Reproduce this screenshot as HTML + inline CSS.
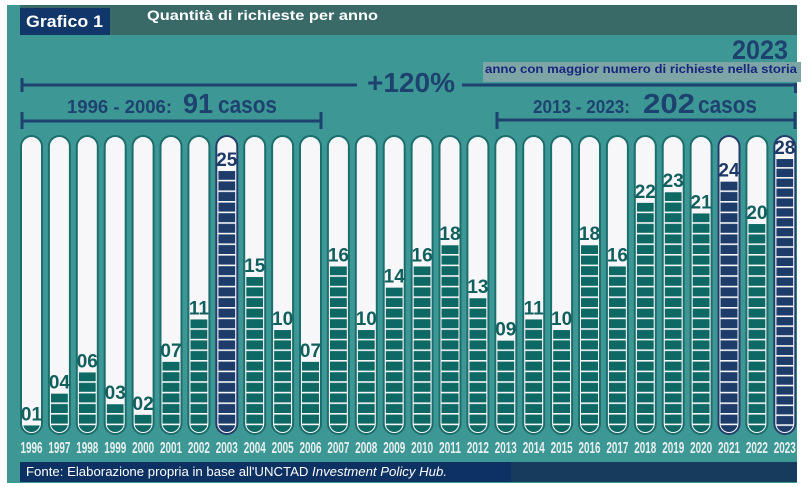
<!DOCTYPE html>
<html><head><meta charset="utf-8"><style>
html,body{margin:0;padding:0;background:#fff;}
svg{display:block;}
text{font-family:"Liberation Sans",Arial,sans-serif;}
.o{fill:#f7f7f9;stroke:#1b6e6c;stroke-width:2;}
.on{fill:#f7f7f9;stroke:#223f6c;stroke-width:2;}
.v{font-size:19px;font-weight:bold;fill:#12605e;text-anchor:middle;}
.vn{font-size:19px;font-weight:bold;fill:#1d3a66;text-anchor:middle;}
.y{font-size:15.5px;font-weight:bold;fill:#e9f1f0;text-anchor:middle;}
.b{font-weight:bold;fill:#1e426f;}
</style></head><body>
<svg width="809" height="487" viewBox="0 0 809 487" xmlns="http://www.w3.org/2000/svg">
<defs>
<clipPath id="c"><rect x="3" y="138" width="17" height="294" rx="8.5"/></clipPath>
<pattern id="pt" patternUnits="userSpaceOnUse" x="0" y="434.2" width="30" height="10.6"><rect x="0" y="0" width="30" height="10.6" fill="#0e6864"/><rect x="0" y="0" width="30" height="1.6" fill="#f7f7f9"/></pattern>
<pattern id="pn" patternUnits="userSpaceOnUse" x="0" y="434.2" width="30" height="10.6"><rect x="0" y="0" width="30" height="10.6" fill="#1d3c6a"/><rect x="0" y="0" width="30" height="1.6" fill="#f7f7f9"/></pattern>
<pattern id="pn2" patternUnits="userSpaceOnUse" x="0" y="434.2" width="30" height="9.893"><rect x="0" y="0" width="30" height="9.893" fill="#1d3c6a"/><rect x="0" y="0" width="30" height="1.6" fill="#f7f7f9"/></pattern>
</defs>
<rect x="7" y="5" width="790" height="478" fill="#3d9794"/>
<rect x="20" y="5" width="777" height="30" fill="#3a6a68"/>
<rect x="20" y="8" width="90" height="27" fill="#10366a"/>
<text x="26" y="27" font-size="16.5" font-weight="bold" fill="#fff" textLength="77" lengthAdjust="spacingAndGlyphs">Grafico 1</text>
<text x="147" y="20" font-size="14" font-weight="bold" fill="#fff" textLength="231" lengthAdjust="spacingAndGlyphs">Quantità di richieste per anno</text>

<g stroke="#1e426f" stroke-width="3">
<line x1="22" y1="85" x2="357" y2="85"/>
<line x1="22" y1="78" x2="22" y2="92"/>
<line x1="462" y1="85" x2="797" y2="85"/>
<line x1="795.5" y1="83" x2="795.5" y2="93"/>
<line x1="22" y1="121" x2="321" y2="121"/>
<line x1="22" y1="112" x2="22" y2="129"/>
<line x1="321" y1="112" x2="321" y2="129"/>
<line x1="497" y1="120" x2="795" y2="120"/>
<line x1="497" y1="112" x2="497" y2="129"/>
<line x1="795" y1="112" x2="795" y2="129"/>
</g>
<text class="b" x="367" y="92" font-size="28" textLength="88" lengthAdjust="spacingAndGlyphs">+120%</text>
<text class="b" x="732" y="59" font-size="27" textLength="56" lengthAdjust="spacingAndGlyphs">2023</text>
<rect x="483" y="62" width="318" height="20" fill="#7ea5a6"/>
<text x="485" y="73" font-size="12" font-weight="bold" fill="#18257c" textLength="312" lengthAdjust="spacingAndGlyphs">anno con maggior numero di richieste nella storia</text>

<text class="b" x="67" y="113" font-size="18" textLength="105" lengthAdjust="spacingAndGlyphs">1996 - 2006:</text>
<text class="b" x="183" y="113" font-size="28" textLength="30" lengthAdjust="spacingAndGlyphs">91</text>
<text class="b" x="218" y="113" font-size="24" textLength="59" lengthAdjust="spacingAndGlyphs">casos</text>

<text class="b" x="533" y="113" font-size="18" textLength="97" lengthAdjust="spacingAndGlyphs">2013 - 2023:</text>
<text class="b" x="643" y="113" font-size="28" textLength="52" lengthAdjust="spacingAndGlyphs">202</text>
<text class="b" x="698" y="113" font-size="24" textLength="59" lengthAdjust="spacingAndGlyphs">casos</text>

<g transform="translate(20,0)"><rect class="o" x="1" y="136" width="21" height="298" rx="10.5"/><rect x="3" y="425.4" width="17" height="20" fill="url(#pt)" clip-path="url(#c)"/><text class="v" x="11.5" y="420.4">01</text><text class="y" x="11.5" y="453" textLength="22" lengthAdjust="spacingAndGlyphs">1996</text></g>
<g transform="translate(47.9,0)"><rect class="o" x="1" y="136" width="21" height="298" rx="10.5"/><rect x="3" y="393.6" width="17" height="50" fill="url(#pt)" clip-path="url(#c)"/><text class="v" x="11.5" y="388.6">04</text><text class="y" x="11.5" y="453" textLength="22" lengthAdjust="spacingAndGlyphs">1997</text></g>
<g transform="translate(75.8,0)"><rect class="o" x="1" y="136" width="21" height="298" rx="10.5"/><rect x="3" y="372.4" width="17" height="70" fill="url(#pt)" clip-path="url(#c)"/><text class="v" x="11.5" y="367.4">06</text><text class="y" x="11.5" y="453" textLength="22" lengthAdjust="spacingAndGlyphs">1998</text></g>
<g transform="translate(103.7,0)"><rect class="o" x="1" y="136" width="21" height="298" rx="10.5"/><rect x="3" y="404.2" width="17" height="40" fill="url(#pt)" clip-path="url(#c)"/><text class="v" x="11.5" y="399.2">03</text><text class="y" x="11.5" y="453" textLength="22" lengthAdjust="spacingAndGlyphs">1999</text></g>
<g transform="translate(131.6,0)"><rect class="o" x="1" y="136" width="21" height="298" rx="10.5"/><rect x="3" y="414.8" width="17" height="30" fill="url(#pt)" clip-path="url(#c)"/><text class="v" x="11.5" y="409.8">02</text><text class="y" x="11.5" y="453" textLength="22" lengthAdjust="spacingAndGlyphs">2000</text></g>
<g transform="translate(159.5,0)"><rect class="o" x="1" y="136" width="21" height="298" rx="10.5"/><rect x="3" y="361.8" width="17" height="80" fill="url(#pt)" clip-path="url(#c)"/><text class="v" x="11.5" y="356.8">07</text><text class="y" x="11.5" y="453" textLength="22" lengthAdjust="spacingAndGlyphs">2001</text></g>
<g transform="translate(187.4,0)"><rect class="o" x="1" y="136" width="21" height="298" rx="10.5"/><rect x="3" y="319.4" width="17" height="120" fill="url(#pt)" clip-path="url(#c)"/><text class="v" x="11.5" y="314.4">11</text><text class="y" x="11.5" y="453" textLength="22" lengthAdjust="spacingAndGlyphs">2002</text></g>
<g transform="translate(215.3,0)"><rect class="on" x="1" y="136" width="21" height="298" rx="10.5"/><rect x="3" y="171" width="17" height="270" fill="url(#pn)" clip-path="url(#c)"/><text class="vn" x="11.5" y="166">25</text><text class="y" x="11.5" y="453" textLength="22" lengthAdjust="spacingAndGlyphs">2003</text></g>
<g transform="translate(243.2,0)"><rect class="o" x="1" y="136" width="21" height="298" rx="10.5"/><rect x="3" y="277" width="17" height="170" fill="url(#pt)" clip-path="url(#c)"/><text class="v" x="11.5" y="272">15</text><text class="y" x="11.5" y="453" textLength="22" lengthAdjust="spacingAndGlyphs">2004</text></g>
<g transform="translate(271.1,0)"><rect class="o" x="1" y="136" width="21" height="298" rx="10.5"/><rect x="3" y="330" width="17" height="110" fill="url(#pt)" clip-path="url(#c)"/><text class="v" x="11.5" y="325">10</text><text class="y" x="11.5" y="453" textLength="22" lengthAdjust="spacingAndGlyphs">2005</text></g>
<g transform="translate(299,0)"><rect class="o" x="1" y="136" width="21" height="298" rx="10.5"/><rect x="3" y="361.8" width="17" height="80" fill="url(#pt)" clip-path="url(#c)"/><text class="v" x="11.5" y="356.8">07</text><text class="y" x="11.5" y="453" textLength="22" lengthAdjust="spacingAndGlyphs">2006</text></g>
<g transform="translate(326.9,0)"><rect class="o" x="1" y="136" width="21" height="298" rx="10.5"/><rect x="3" y="266.4" width="17" height="180" fill="url(#pt)" clip-path="url(#c)"/><text class="v" x="11.5" y="261.4">16</text><text class="y" x="11.5" y="453" textLength="22" lengthAdjust="spacingAndGlyphs">2007</text></g>
<g transform="translate(354.8,0)"><rect class="o" x="1" y="136" width="21" height="298" rx="10.5"/><rect x="3" y="330" width="17" height="110" fill="url(#pt)" clip-path="url(#c)"/><text class="v" x="11.5" y="325">10</text><text class="y" x="11.5" y="453" textLength="22" lengthAdjust="spacingAndGlyphs">2008</text></g>
<g transform="translate(382.7,0)"><rect class="o" x="1" y="136" width="21" height="298" rx="10.5"/><rect x="3" y="287.6" width="17" height="160" fill="url(#pt)" clip-path="url(#c)"/><text class="v" x="11.5" y="282.6">14</text><text class="y" x="11.5" y="453" textLength="22" lengthAdjust="spacingAndGlyphs">2009</text></g>
<g transform="translate(410.6,0)"><rect class="o" x="1" y="136" width="21" height="298" rx="10.5"/><rect x="3" y="266.4" width="17" height="180" fill="url(#pt)" clip-path="url(#c)"/><text class="v" x="11.5" y="261.4">16</text><text class="y" x="11.5" y="453" textLength="22" lengthAdjust="spacingAndGlyphs">2010</text></g>
<g transform="translate(438.5,0)"><rect class="o" x="1" y="136" width="21" height="298" rx="10.5"/><rect x="3" y="245.2" width="17" height="200" fill="url(#pt)" clip-path="url(#c)"/><text class="v" x="11.5" y="240.2">18</text><text class="y" x="11.5" y="453" textLength="22" lengthAdjust="spacingAndGlyphs">2011</text></g>
<g transform="translate(466.4,0)"><rect class="o" x="1" y="136" width="21" height="298" rx="10.5"/><rect x="3" y="298.2" width="17" height="150" fill="url(#pt)" clip-path="url(#c)"/><text class="v" x="11.5" y="293.2">13</text><text class="y" x="11.5" y="453" textLength="22" lengthAdjust="spacingAndGlyphs">2012</text></g>
<g transform="translate(494.3,0)"><rect class="o" x="1" y="136" width="21" height="298" rx="10.5"/><rect x="3" y="340.6" width="17" height="100" fill="url(#pt)" clip-path="url(#c)"/><text class="v" x="11.5" y="335.6">09</text><text class="y" x="11.5" y="453" textLength="22" lengthAdjust="spacingAndGlyphs">2013</text></g>
<g transform="translate(522.2,0)"><rect class="o" x="1" y="136" width="21" height="298" rx="10.5"/><rect x="3" y="319.4" width="17" height="120" fill="url(#pt)" clip-path="url(#c)"/><text class="v" x="11.5" y="314.4">11</text><text class="y" x="11.5" y="453" textLength="22" lengthAdjust="spacingAndGlyphs">2014</text></g>
<g transform="translate(550.1,0)"><rect class="o" x="1" y="136" width="21" height="298" rx="10.5"/><rect x="3" y="330" width="17" height="110" fill="url(#pt)" clip-path="url(#c)"/><text class="v" x="11.5" y="325">10</text><text class="y" x="11.5" y="453" textLength="22" lengthAdjust="spacingAndGlyphs">2015</text></g>
<g transform="translate(578,0)"><rect class="o" x="1" y="136" width="21" height="298" rx="10.5"/><rect x="3" y="245.2" width="17" height="200" fill="url(#pt)" clip-path="url(#c)"/><text class="v" x="11.5" y="240.2">18</text><text class="y" x="11.5" y="453" textLength="22" lengthAdjust="spacingAndGlyphs">2016</text></g>
<g transform="translate(605.9,0)"><rect class="o" x="1" y="136" width="21" height="298" rx="10.5"/><rect x="3" y="266.4" width="17" height="180" fill="url(#pt)" clip-path="url(#c)"/><text class="v" x="11.5" y="261.4">16</text><text class="y" x="11.5" y="453" textLength="22" lengthAdjust="spacingAndGlyphs">2017</text></g>
<g transform="translate(633.8,0)"><rect class="o" x="1" y="136" width="21" height="298" rx="10.5"/><rect x="3" y="202.8" width="17" height="240" fill="url(#pt)" clip-path="url(#c)"/><text class="v" x="11.5" y="197.8">22</text><text class="y" x="11.5" y="453" textLength="22" lengthAdjust="spacingAndGlyphs">2018</text></g>
<g transform="translate(661.7,0)"><rect class="o" x="1" y="136" width="21" height="298" rx="10.5"/><rect x="3" y="192.2" width="17" height="250" fill="url(#pt)" clip-path="url(#c)"/><text class="v" x="11.5" y="187.2">23</text><text class="y" x="11.5" y="453" textLength="22" lengthAdjust="spacingAndGlyphs">2019</text></g>
<g transform="translate(689.6,0)"><rect class="o" x="1" y="136" width="21" height="298" rx="10.5"/><rect x="3" y="213.4" width="17" height="230" fill="url(#pt)" clip-path="url(#c)"/><text class="v" x="11.5" y="208.4">21</text><text class="y" x="11.5" y="453" textLength="22" lengthAdjust="spacingAndGlyphs">2020</text></g>
<g transform="translate(717.5,0)"><rect class="on" x="1" y="136" width="21" height="298" rx="10.5"/><rect x="3" y="181.6" width="17" height="260" fill="url(#pn)" clip-path="url(#c)"/><text class="vn" x="11.5" y="176.6">24</text><text class="y" x="11.5" y="453" textLength="22" lengthAdjust="spacingAndGlyphs">2021</text></g>
<g transform="translate(745.4,0)"><rect class="o" x="1" y="136" width="21" height="298" rx="10.5"/><rect x="3" y="224" width="17" height="220" fill="url(#pt)" clip-path="url(#c)"/><text class="v" x="11.5" y="219">20</text><text class="y" x="11.5" y="453" textLength="22" lengthAdjust="spacingAndGlyphs">2022</text></g>
<g transform="translate(773.3,0)"><rect class="on" x="1" y="136" width="21" height="298" rx="10.5"/><rect x="3" y="159" width="17" height="285" fill="url(#pn2)" clip-path="url(#c)"/><text class="vn" x="11.5" y="154">28</text><text class="y" x="11.5" y="453" textLength="22" lengthAdjust="spacingAndGlyphs">2023</text></g>

<rect x="20" y="462" width="777" height="20" fill="#173b5c"/>
<rect x="20" y="462" width="491" height="20" fill="#0d3162"/>
<text x="26" y="476" font-size="13" fill="#fff" textLength="421" lengthAdjust="spacingAndGlyphs">Fonte: Elaborazione propria in base all'UNCTAD <tspan font-style="italic">Investment Policy Hub.</tspan></text>
</svg>
</body></html>
